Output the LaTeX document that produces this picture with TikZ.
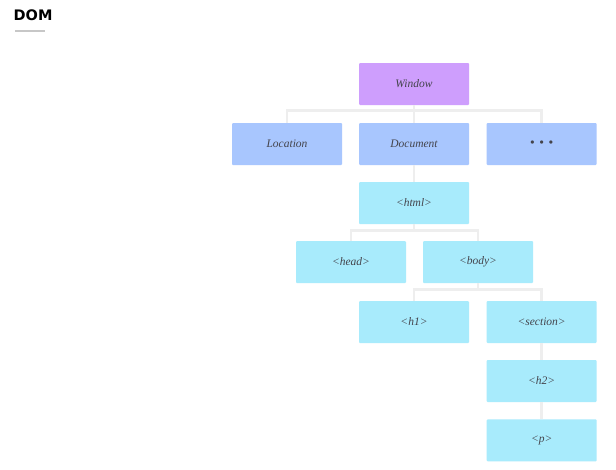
\documentclass[tikz,border=0pt]{standalone}
\usepackage{fontspec}
\setmainfont{Liberation Serif}
\newfontfamily\titlefont{DejaVu Sans}
\definecolor{winpurple}{HTML}{CE9EFD}
\definecolor{objblue}{HTML}{A8C6FE}
\definecolor{tagcyan}{HTML}{A8EBFC}
\definecolor{linegray}{HTML}{EEEEEE}
\definecolor{textgray}{HTML}{44444C}
\begin{document}
\begin{tikzpicture}[x=1pt, y=-1pt]

\tikzstyle{every node} = [rectangle, minimum width=110pt, minimum height=42pt, inner sep=0pt, rounded corners=1pt, text=textgray, font=\fontsize{11.5}{13}\selectfont\itshape]
\tikzstyle{link} = [draw=linegray, line width=2.6pt]

\useasboundingbox (0,0) rectangle (616,469);
\fill[white] (0,0) rectangle (616,469);

% title
\node[minimum width=0pt, minimum height=0pt, text=black, font=\titlefont\bfseries\fontsize{14.5}{17}\selectfont, anchor=west] (title) at (13.5,15) {DOM};
\draw[draw=black!22, line width=2pt] (15,31) -- (45,31);

\node[fill=winpurple] (win) at (414,84) {Window};

\node[fill=objblue] (loc) at (287,144) {Location};
\node[fill=objblue] (doc) at (414,144) {Document};
\node[fill=objblue, font=\fontsize{12}{13}\selectfont\bfseries] (more) at (541.7,144) {•\hspace{5pt}•\hspace{5pt}•};

\node[fill=tagcyan] (html) at (414,203) {<html>};
\node[fill=tagcyan] (head) at (351,262) {<head>};
\node[fill=tagcyan] (body) at (478,262) {<body>};
\node[fill=tagcyan] (h1) at (414,322) {<h1>};
\node[fill=tagcyan] (sect) at (541.7,322) {<section>};
\node[fill=tagcyan] (h2) at (541.7,381) {<h2>};
\node[fill=tagcyan] (p) at (541.7,440.3) {<p>};

\draw[link] (win.south) -- ++(0,5) -| (loc.north);
\draw[link] (win.south) -- (doc.north);
\draw[link] (win.south) -- ++(0,5) -| (more.north);
\draw[link] (doc.south) -- (html.north);
\draw[link] (html.south) -- ++(0,6) -| (head.north);
\draw[link] (html.south) -- ++(0,6) -| (body.north);
\draw[link] (body.south) -- ++(0,6) -| (h1.north);
\draw[link] (body.south) -- ++(0,6) -| (sect.north);
\draw[link] (sect.south) -- (h2.north);
\draw[link] (h2.south) -- (p.north);
\end{tikzpicture}
\end{document}
